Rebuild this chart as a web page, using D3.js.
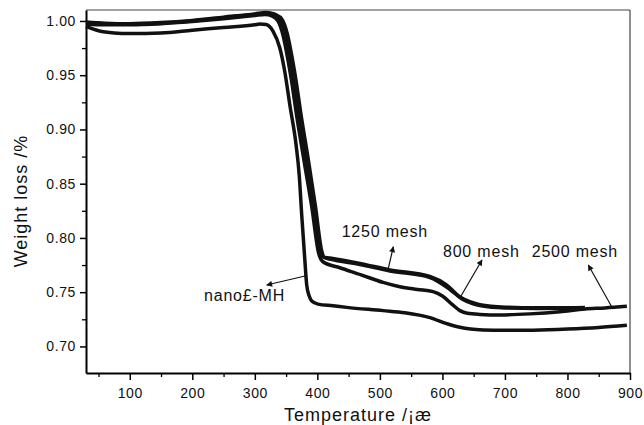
<!DOCTYPE html>
<html>
<head>
<meta charset="utf-8">
<script src="https://cdn.jsdelivr.net/npm/d3@7/dist/d3.min.js"></script>
<style>
  html, body { margin: 0; padding: 0; background: #fff; }
  svg { display: block; font-family: "Liberation Sans", Arial, sans-serif; }
</style>
</head>
<body>
<svg id="chart" width="644" height="425"></svg>
<script>
// ---- data ----
const xTicks = [100, 200, 300, 400, 500, 600, 700, 800, 900];
const xMinorTicks = [50, 150, 250, 350, 450, 550, 650, 750, 850];
const yTicks = [0.70, 0.75, 0.80, 0.85, 0.90, 0.95, 1.00];
const yMinorTicks = [0.725, 0.775, 0.825, 0.875, 0.925, 0.975];

const nanoT = [30, 50, 75, 100, 150, 200, 250, 300, 308, 318, 329, 340, 348, 356, 366, 371, 375, 380, 383, 387, 391, 401, 425, 447, 505, 540, 580, 607, 628, 645, 665, 700, 745, 800, 850, 895];
const nanoW = [0.995, 0.991, 0.989, 0.9885, 0.989, 0.9915, 0.994, 0.9965, 0.9972, 0.9967, 0.9907, 0.9751, 0.953, 0.9225, 0.8857, 0.858, 0.8211, 0.7796, 0.7565, 0.7464, 0.7418, 0.739, 0.7375, 0.736, 0.733, 0.731, 0.7265, 0.721, 0.7176, 0.716, 0.7152, 0.7148, 0.715, 0.716, 0.7175, 0.7195];

const m1250T = [30, 60, 100, 150, 200, 250, 300, 318, 331, 340, 348, 356, 363, 369, 382, 393, 404, 409, 420, 468, 516, 580, 607, 628, 645, 660, 700, 750, 800, 828];
const m1250W = [0.999, 0.998, 0.9975, 0.9985, 1.0005, 1.0035, 1.0065, 1.0078, 1.0064, 1.0018, 0.989, 0.966, 0.942, 0.918, 0.8718, 0.8304, 0.7889, 0.7825, 0.7815, 0.7765, 0.7705, 0.7645, 0.7565, 0.7455, 0.741, 0.7385, 0.7362, 0.7356, 0.7356, 0.7358];

const m800T = [30, 60, 100, 150, 200, 250, 300, 320, 334, 344, 352, 360, 367, 373, 386, 397, 407, 411, 420, 468, 516, 580, 612, 632, 648, 662, 700, 750, 805];
const m800W = [0.9985, 0.9975, 0.997, 0.998, 1.0, 1.003, 1.006, 1.007, 1.0055, 1.001, 0.988, 0.965, 0.941, 0.917, 0.8705, 0.829, 0.788, 0.782, 0.7805, 0.7755, 0.7695, 0.7635, 0.7525, 0.7435, 0.7395, 0.7375, 0.7355, 0.7350, 0.7352];

const m2500T = [30, 60, 100, 150, 200, 250, 300, 316, 328, 337, 345, 353, 360, 366, 379, 391, 402, 409, 436, 470, 505, 532, 560, 585, 600, 617, 628, 640, 660, 692, 740, 788, 828, 860, 895];
const m2500W = [0.997, 0.9965, 0.9965, 0.9975, 0.9995, 1.002, 1.005, 1.006, 1.0045, 1.0, 0.987, 0.964, 0.940, 0.916, 0.870, 0.829, 0.786, 0.778, 0.7725, 0.766, 0.759, 0.755, 0.7525, 0.7505, 0.7465, 0.738, 0.733, 0.7305, 0.7295, 0.729, 0.730, 0.732, 0.7345, 0.7355, 0.737];

const seriesNames = ["nano£-MH", "1250 mesh", "800 mesh", "2500 mesh"];
const seriesT = [nanoT, m1250T, m800T, m2500T];
const seriesW = [nanoW, m1250W, m800W, m2500W];

// annotations (label, text anchor, arrow start, arrow end) in data units
const annLabels = ["1250 mesh", "800 mesh", "2500 mesh", "nano£-MH"];
const annTextT = [438.9, 600.9, 742.8, 218.7];
const annTextW = [0.8009, 0.7824, 0.7824, 0.7419];
const annFromT = [513.5, 629.7, 870.7, 380.2];
const annFromW = [0.7720, 0.7465, 0.7366, 0.7649];
const annToT = [521.5, 663.3, 833.3, 319.0];
const annToW = [0.7919, 0.7797, 0.7750, 0.7566];

const xLabel = "Temperature  /¡æ";
const yLabel = "Weight loss /%";

// ---- chart ----
const svg = d3.select("#chart");
const x = d3.scaleLinear().domain([30, 900]).range([86, 630]);
const y = d3.scaleLinear().domain([0.6755, 1.0101]).range([373, 10]);

// frame (top/right)
svg.append("line").attr("x1", x(30)).attr("x2", x(900)).attr("y1", y(1.0101)).attr("y2", y(1.0101))
  .attr("stroke", "#444").attr("stroke-width", 1);
svg.append("line").attr("x1", x(900)).attr("x2", x(900)).attr("y1", y(1.0101)).attr("y2", y(0.6755))
  .attr("stroke", "#444").attr("stroke-width", 1.2);

// minor ticks
svg.append("g").attr("transform", `translate(0,${y(0.6755)})`)
  .call(d3.axisBottom(x).tickValues(xMinorTicks).tickSize(4).tickFormat(""))
  .call(g => g.select(".domain").remove())
  .selectAll("line").attr("stroke", "#000").attr("stroke-width", 1.3);
svg.append("g").attr("transform", `translate(${x(30)},0)`)
  .call(d3.axisLeft(y).tickValues(yMinorTicks).tickSize(4).tickFormat(""))
  .call(g => g.select(".domain").remove())
  .selectAll("line").attr("stroke", "#000").attr("stroke-width", 1.3);

// major axes
const xAxis = svg.append("g").attr("transform", `translate(0,${y(0.6755)})`)
  .call(d3.axisBottom(x).tickValues(xTicks).tickSize(7).tickPadding(8).tickSizeOuter(0).tickFormat(d3.format("d")));
const yAxis = svg.append("g").attr("transform", `translate(${x(30)},0)`)
  .call(d3.axisLeft(y).tickValues(yTicks).tickSize(6).tickPadding(4).tickSizeOuter(0).tickFormat(d3.format(".2f")));
[xAxis, yAxis].forEach(g => {
  g.select(".domain").attr("stroke", "#000").attr("stroke-width", 2);
  g.selectAll(".tick line").attr("stroke", "#000").attr("stroke-width", 1.5);
  g.selectAll(".tick text").attr("font-size", 14).attr("fill", "#111")
    .attr("font-family", "'Liberation Sans', Arial, sans-serif").style("letter-spacing", "0.6px");
});

// axis titles
svg.append("text").attr("x", 358).attr("y", 421).attr("text-anchor", "middle")
  .attr("font-size", 18).attr("fill", "#111").style("letter-spacing", "1px").text(xLabel);
svg.append("text").attr("transform", `translate(27,${201}) rotate(-90)`).attr("text-anchor", "middle")
  .attr("font-size", 18).attr("fill", "#111").style("letter-spacing", "1px").text(yLabel);

// curves
const line = d3.line().x(d => x(d[0])).y(d => y(d[1])).curve(d3.curveMonotoneX);
const plot = svg.append("g");
seriesNames.forEach((name, i) => {
  const pts = seriesT[i].map((t, j) => [t, seriesW[i][j]]);
  plot.append("path").datum(pts).attr("d", line)
    .attr("fill", "none").attr("stroke", "#111").attr("stroke-width", 3.5)
    .attr("stroke-linejoin", "round").attr("stroke-linecap", "butt");
});

// arrowhead marker
svg.append("defs").append("marker").attr("id", "ah")
  .attr("viewBox", "0 0 10 10").attr("refX", 9).attr("refY", 5)
  .attr("markerWidth", 8).attr("markerHeight", 6).attr("markerUnits", "userSpaceOnUse")
  .attr("orient", "auto")
  .append("path").attr("d", "M0,0 L10,5 L0,10 Z").attr("fill", "#111");

// annotations
annLabels.forEach((lab, i) => {
  svg.append("line")
    .attr("x1", x(annFromT[i])).attr("y1", y(annFromW[i]))
    .attr("x2", x(annToT[i])).attr("y2", y(annToW[i]))
    .attr("stroke", "#111").attr("stroke-width", 1.2).attr("marker-end", "url(#ah)");
  svg.append("text").attr("x", x(annTextT[i])).attr("y", y(annTextW[i]))
    .attr("font-size", 16).attr("fill", "#111").style("letter-spacing", "0.8px").text(lab);
});
</script>
</body>
</html>
